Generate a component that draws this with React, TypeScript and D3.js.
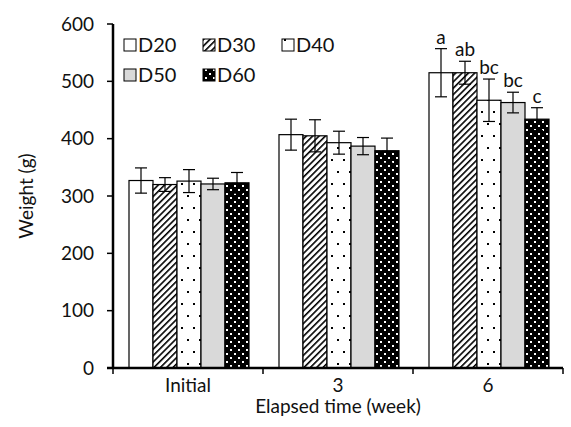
import React from 'react';
import * as d3 from 'd3';

const groups = ['Initial', '3', '6'];
const series = ['D20', 'D30', 'D40', 'D50', 'D60'];
const means = [
  [327, 320, 326, 321, 323],
  [407, 405, 393, 387, 379],
  [515, 515, 467, 463, 434],
];
const errs = [
  [22, 12, 20, 10, 18],
  [27, 28, 20, 15, 22],
  [42, 20, 37, 18, 20],
];
const letters = [
  ['', '', '', '', ''],
  ['', '', '', '', ''],
  ['a', 'ab', 'bc', 'bc', 'c'],
];
const yTicks = [0, 100, 200, 300, 400, 500, 600];

const fills = ['#fff', 'url(#p30)', 'url(#p40)', '#d9d9d9', 'url(#p60)'];
const font = 'Lato, "Open Sans", sans-serif';

export default function App() {
  const width = 571;
  const height = 427;
  const m = { top: 24, right: 8, bottom: 58, left: 113 };
  const x0 = d3.scaleBand().domain(groups).range([m.left, width - m.right]).paddingInner(0).paddingOuter(0);
  const x1 = d3.scaleBand().domain(series).range([16, x0.bandwidth() - 14]).padding(0);
  const y = d3.scaleLinear().domain([0, 600]).range([height - m.bottom - 1, m.top]);
  const y0 = y(0);

  const legendRows = [
    [['D20', 0], ['D30', 1], ['D40', 2]],
    [['D50', 3], ['D60', 4]],
  ] as [string, number][][];

  return (
    <svg width={width} height={height} style={{ position: 'absolute', left: 0, top: 0 }} fontFamily={font}>
      <defs>
        <pattern id="p30" width="4.5" height="4.5" patternUnits="userSpaceOnUse" patternTransform="rotate(45)">
          <rect width="4.5" height="4.5" fill="#fff" />
          <rect x="0" y="0" width="1.6" height="4.5" fill="#000" />
        </pattern>
        <pattern id="p40" width="12" height="24" patternUnits="userSpaceOnUse">
          <rect width="12" height="24" fill="#fff" />
          <rect x="2" y="3" width="2" height="2" fill="#000" />
          <rect x="8" y="15" width="2" height="2" fill="#000" />
        </pattern>
        <pattern id="p60" width="8" height="8" patternUnits="userSpaceOnUse">
          <rect width="8" height="8" fill="#000" />
          <rect x="1" y="1" width="2" height="2" fill="#fff" />
          <rect x="5" y="5" width="2" height="2" fill="#fff" />
        </pattern>
      </defs>

      {groups.map((g, gi) => (
        <g key={g} transform={`translate(${x0(g)},0)`}>
          {series.map((s, si) => {
            const v = means[gi][si];
            const e = errs[gi][si];
            const bx = x1(s)!;
            const cx = bx + x1.bandwidth() / 2;
            return (
              <g key={s}>
                <rect x={bx} y={y(v)} width={x1.bandwidth()} height={y0 - y(v)} fill={fills[si]} stroke="#000" strokeWidth={1.2} />
                <line x1={cx} x2={cx} y1={y(v + e)} y2={y(v - e)} stroke="#000" strokeWidth={1.2} />
                <line x1={cx - 6} x2={cx + 6} y1={y(v + e)} y2={y(v + e)} stroke="#000" strokeWidth={1.2} />
                <line x1={cx - 6} x2={cx + 6} y1={y(v - e)} y2={y(v - e)} stroke="#000" strokeWidth={1.2} />
                {letters[gi][si] && (
                  <text x={cx} y={y(v + e) - 5} textAnchor="middle" fontSize={19} fill="#111">{letters[gi][si]}</text>
                )}
              </g>
            );
          })}
        </g>
      ))}

      {/* axes */}
      <line x1={m.left} x2={m.left} y1={m.top} y2={y0} stroke="#000" strokeWidth={2.5} />
      <line x1={m.left - 6} x2={width - m.right} y1={y0} y2={y0} stroke="#000" strokeWidth={2.5} />
      {yTicks.map(t => (
        <g key={t}>
          <line x1={m.left - 6} x2={m.left} y1={y(t)} y2={y(t)} stroke="#000" strokeWidth={1.5} />
          <text x={m.left - 19} y={y(t)} dy="0.35em" textAnchor="end" fontSize={19} fill="#111">{t}</text>
        </g>
      ))}
      {groups.map((g, gi) => (
        <g key={g}>
          <line x1={x0(g)! + x0.bandwidth()} x2={x0(g)! + x0.bandwidth()} y1={y0} y2={y0 + 6} stroke="#000" strokeWidth={1.5} />
          <text x={x0(g)! + x0.bandwidth() / 2} y={y0 + 24} textAnchor="middle" fontSize={19} fill="#111">{g}</text>
        </g>
      ))}
      <line x1={m.left} x2={m.left} y1={y0} y2={y0 + 6} stroke="#000" strokeWidth={1.5} />
      <text x={(m.left + width - m.right) / 2} y={y0 + 45} textAnchor="middle" fontSize={19} fill="#111">Elapsed time (week)</text>
      <text transform={`translate(33,${(m.top + y0) / 2}) rotate(-90)`} textAnchor="middle" fontSize={19} fill="#111">Weight (g)</text>

      {/* legend */}
      {legendRows.map((row, ri) =>
        row.map(([label, si], ci) => {
          const lx = 124 + ci * 79;
          const ly = 45 + ri * 30;
          return (
            <g key={label}>
              <rect x={lx} y={ly - 6} width={12} height={12} fill={fills[si]} stroke="#000" strokeWidth={1} />
              <text x={lx + 14} y={ly} dy="0.35em" fontSize={20} fill="#111">{label}</text>
            </g>
          );
        })
      )}
    </svg>
  );
}
